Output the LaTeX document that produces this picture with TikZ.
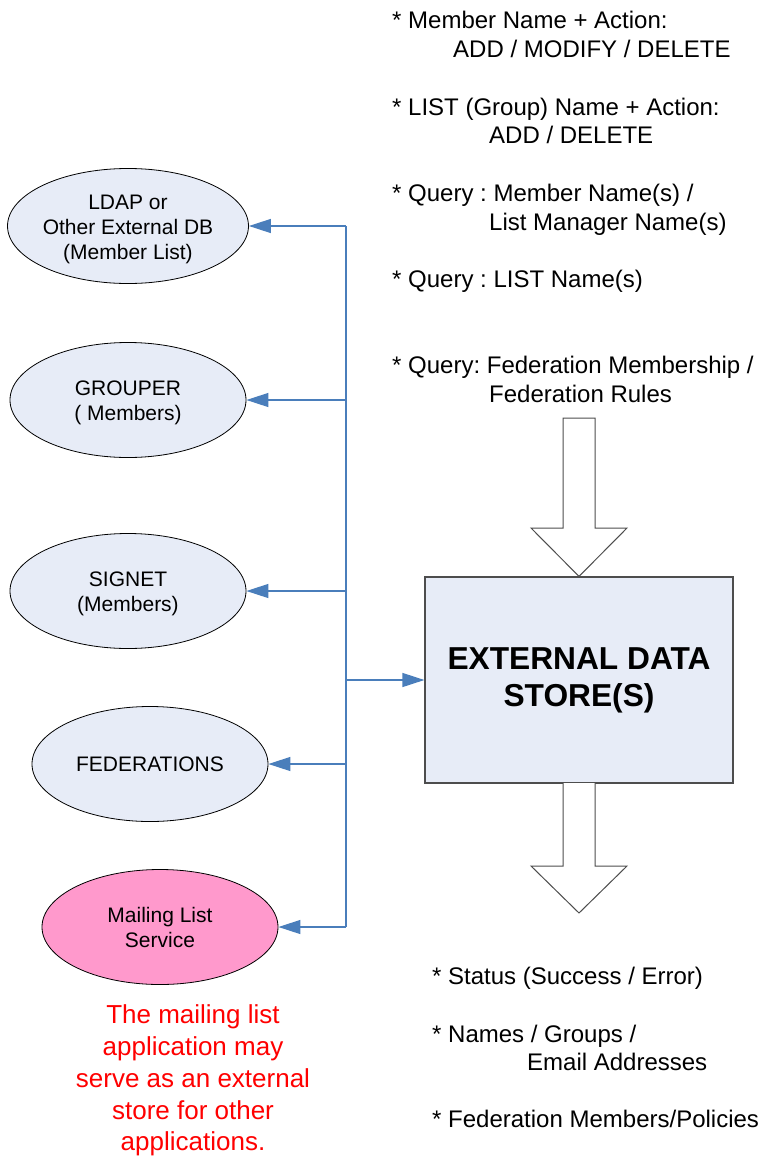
\documentclass[tikz,border=0pt]{standalone}
\usepackage{fontspec}
\setmainfont{Liberation Sans}
\usetikzlibrary{arrows.meta,shapes.geometric}
\definecolor{ellfill}{HTML}{E7ECF7}
\definecolor{pinkfill}{HTML}{FF99CC}
\definecolor{busblue}{HTML}{4A7EBB}
\definecolor{boxgray}{HTML}{4D4D4D}
\frenchspacing
\newcommand\elltext[1]{\raisebox{-3pt}[\height][\depth]{\begin{tabular}{@{}c@{}}#1\end{tabular}}}
\begin{document}
\begin{tikzpicture}[x=1pt,y=-1pt,
  ell/.style={ellipse, draw=black, line width=0.8pt, fill=ellfill, minimum width=236pt, minimum height=115pt, inner sep=0pt, align=center, font=\fontsize{21}{25}\selectfont},
  bus/.style={draw=busblue, line width=1.2pt},
  busarrow/.style={bus, -{Triangle[length=22pt,width=14pt]}},
  txt/.style={anchor=base west, inner sep=0pt, font=\fontsize{24}{29}\selectfont},
  redtxt/.style={anchor=base, inner sep=0pt, text=red, font=\fontsize{26}{32}\selectfont},
  blockarrow/.style={draw=boxgray, fill=white, line width=1pt, line join=miter},
  storebox/.style={draw=boxgray, line width=1.2pt, fill=ellfill, minimum width=308pt, minimum height=206pt, inner sep=0pt, align=center, font=\bfseries\fontsize{31.7}{37}\selectfont}
]
\useasboundingbox (0,0) rectangle (761,1157);

% ellipses
\node[ell] (ldap) at (128,226) {\elltext{LDAP or\\Other External DB\\(Member List)}};
\node[ell] (grouper) at (128,400) {\elltext{GROUPER\\( Members)}};
\node[ell] (signet) at (128,591) {\elltext{SIGNET\\(Members)}};
\node[ell] (fed) at (150,764) {FEDERATIONS};
\node[ell, fill=pinkfill] (mls) at (160,927) {Mailing List\\Service};

% store box
\node[storebox] (store) at (579,680) {EXTERNAL DATA\\STORE(S)};

% bus
\coordinate (j1) at (346,226);
\coordinate (j2) at (346,400);
\coordinate (j3) at (346,591);
\coordinate (jbox) at (346,680);
\coordinate (j4) at (346,764);
\coordinate (j5) at (346,927);
\draw[bus] (j1) -- (j5);
\draw[busarrow] (j1) -- (ldap);
\draw[busarrow] (j2) -- (grouper);
\draw[busarrow] (j3) -- (signet);
\draw[busarrow] (j4) -- (fed);
\draw[busarrow] (j5) -- (mls);
\draw[busarrow] (jbox) -- (store);

% block arrows
\draw[blockarrow] (563,418) -- (595,418) -- (595,528) -- (627,528) -- (store.north) -- (531,528) -- (563,528) -- cycle;
\draw[blockarrow] (563,783) -- (563,866) -- (531,866) -- (579,913) -- (627,866) -- (595,866) -- (595,783);

% top texts
\node[txt] (t1) at (392,28) {* Member Name + Action:};
\node[txt] (t1b) at (453,57) {ADD / MODIFY / DELETE};
\node[txt] (t2) at (392,115) {* LIST (Group) Name + Action:};
\node[txt] (t2b) at (489,143) {ADD / DELETE};
\node[txt] (t3) at (392,201) {* Query : Member Name(s) /};
\node[txt] (t3b) at (489,230) {List Manager Name(s)};
\node[txt] (t4) at (392,287) {* Query : LIST Name(s)};
\node[txt] (t5) at (392,373) {* Query: Federation Membership /};
\node[txt] (t5b) at (489,402) {Federation Rules};

% bottom texts
\node[txt] (b1) at (432,984) {* Status (Success / Error)};
\node[txt] (b2) at (432,1042) {* Names / Groups /};
\node[txt] (b2b) at (527,1070) {Email Addresses};
\node[txt] (b3) at (432,1127) {* Federation Members/Policies};

% red note
\node[redtxt] (r1) at (193,1023) {The mailing list};
\node[redtxt] (r2) at (193,1055) {application may};
\node[redtxt] (r3) at (193,1087) {serve as an external};
\node[redtxt] (r4) at (193,1119) {store for other};
\node[redtxt] (r5) at (193,1150) {applications.};
\end{tikzpicture}
\end{document}
